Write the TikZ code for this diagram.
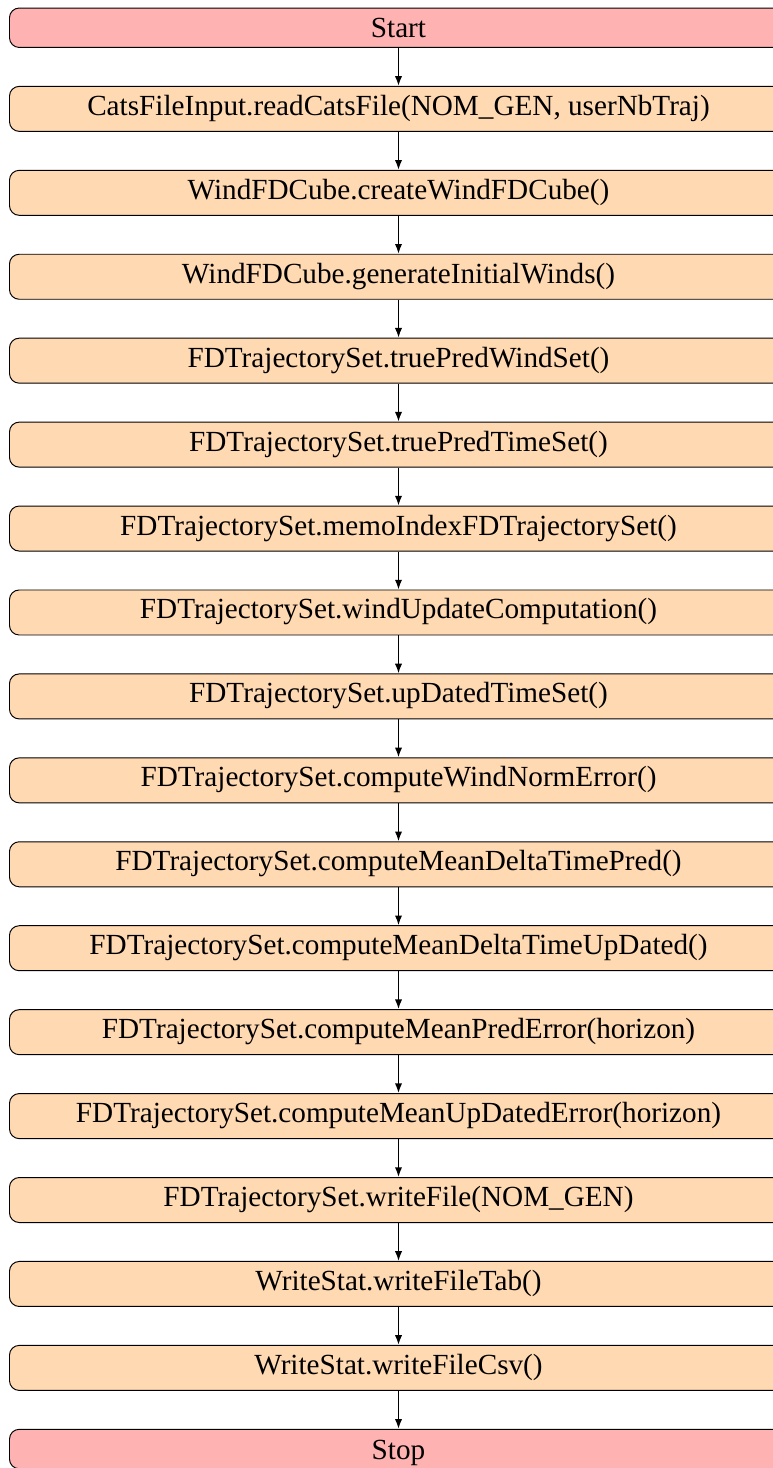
\documentclass[tikz,border=0pt]{standalone}
\usepackage{fontspec}
\setmainfont{Liberation Serif}
\usetikzlibrary{positioning,arrows.meta}

\begin{document}
\begin{tikzpicture}[
    node distance=15.6pt,
    block/.style={draw,rounded corners=4pt,minimum width=319.8pt,align=center,font=\fontsize{12}{14}\selectfont,inner xsep=4pt,inner ysep=4pt},
    term/.style={block,fill=red!30,text height=8.2pt,text depth=0pt},
    proc/.style={block,fill=orange!30,text height=7.9pt,text depth=2.6pt},
    arr/.style={-{Latex[length=4pt,width=3pt]},semithick}
  ]
    \useasboundingbox (0,0) rectangle (317.7pt,-603.4pt);
    \node[term,anchor=north west] (start) at (3.7pt,-3.1pt) {Start};
    \node[proc,below=of start] (s1) {CatsFileInput.readCatsFile(NOM\_GEN, userNbTraj)};
    \node[proc,below=of s1] (s2) {WindFDCube.createWindFDCube()};
    \node[proc,below=of s2] (s3) {WindFDCube.generateInitialWinds()};
    \node[proc,below=of s3] (s4) {FDTrajectorySet.truePredWindSet()};
    \node[proc,below=of s4] (s5) {FDTrajectorySet.truePredTimeSet()};
    \node[proc,below=of s5] (s6) {FDTrajectorySet.memoIndexFDTrajectorySet()};
    \node[proc,below=of s6] (s7) {FDTrajectorySet.windUpdateComputation()};
    \node[proc,below=of s7] (s8) {FDTrajectorySet.upDatedTimeSet()};
    \node[proc,below=of s8] (s9) {FDTrajectorySet.computeWindNormError()};
    \node[proc,below=of s9] (s10) {FDTrajectorySet.computeMeanDeltaTimePred()};
    \node[proc,below=of s10] (s11) {FDTrajectorySet.computeMeanDeltaTimeUpDated()};
    \node[proc,below=of s11] (s12) {FDTrajectorySet.computeMeanPredError(horizon)};
    \node[proc,below=of s12] (s13) {FDTrajectorySet.computeMeanUpDatedError(horizon)};
    \node[proc,below=of s13] (s14) {FDTrajectorySet.writeFile(NOM\_GEN)};
    \node[proc,below=of s14] (s15) {WriteStat.writeFileTab()};
    \node[proc,below=of s15] (s16) {WriteStat.writeFileCsv()};
    \node[term,below=of s16] (stop) {Stop};
    \foreach \x/\y in {start/s1,s1/s2,s2/s3,s3/s4,s4/s5,s5/s6,s6/s7,s7/s8,s8/s9,s9/s10,s10/s11,s11/s12,s12/s13,s13/s14,s14/s15,s15/s16,s16/stop}
      \draw[arr] (\x) -- (\y);
  \end{tikzpicture}
\end{document}
